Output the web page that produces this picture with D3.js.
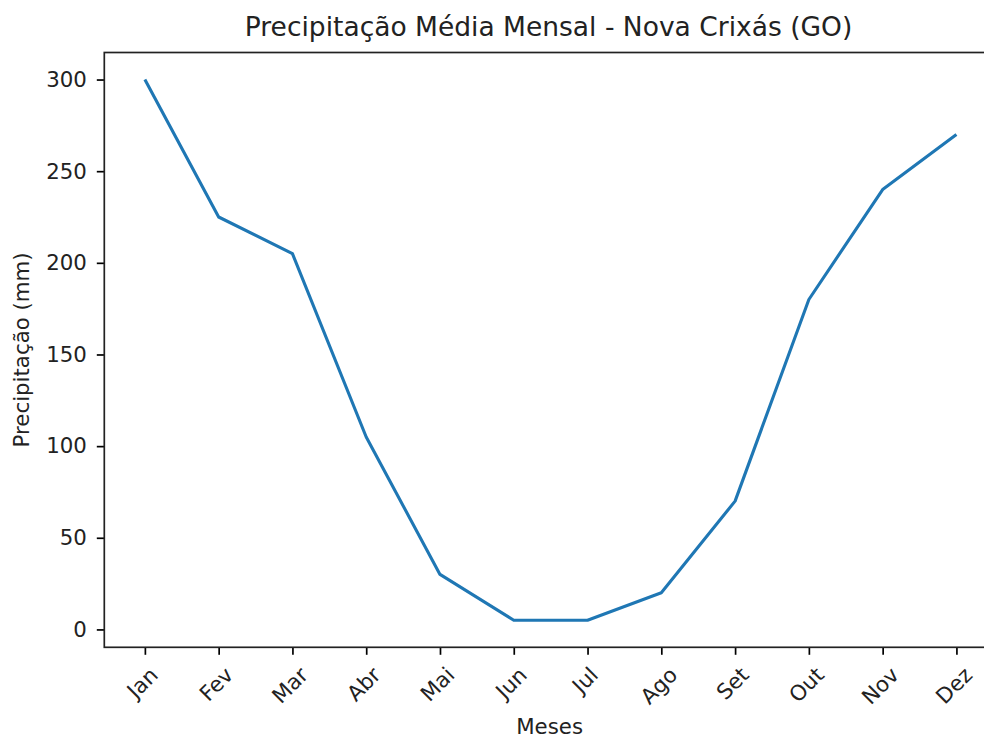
<!DOCTYPE html>
<html>
<head>
<meta charset="utf-8">
<script src="https://cdn.jsdelivr.net/npm/d3@7"></script>
<style>
  html, body { margin: 0; padding: 0; background: #fff; }
  svg { display: block; font-family: "DejaVu Sans", sans-serif; }
</style>
</head>
<body>
<svg id="chart" width="984" height="735"></svg>
<script>
const months = ["Jan", "Fev", "Mar", "Abr", "Mai", "Jun", "Jul", "Ago", "Set", "Out", "Nov", "Dez"];
const precipitation = [300, 225, 205, 105, 30, 5, 5, 20, 70, 180, 240, 270];
const yTicks = [0, 50, 100, 150, 200, 250, 300];
const titleText = "Precipitação Média Mensal - Nova Crixás (GO)";
const xLabel = "Meses";
const yLabel = "Precipitação (mm)";

(function () {
const svg = d3.select("#chart");
const pLeft = 104.3, pRight = 997, pTop = 52.5, pBottom = 647.3;
const n = months.length;
const fs = 21.3, tfs = 26.5, tick = 7.5, tpad = 7.5;

const x = d3.scaleLinear().domain([-0.55, n - 1 + 0.55]).range([pLeft, pRight]);
const yMin = d3.min(precipitation), yMax = d3.max(precipitation);
const pad = (yMax - yMin) * 0.05;
const y = d3.scaleLinear().domain([yMin - pad, yMax + pad]).range([pBottom, pTop]);

// line
const line = d3.line().x((d, i) => x(i)).y(d => y(d));
svg.append("path")
  .datum(precipitation)
  .attr("d", line)
  .attr("fill", "none")
  .attr("stroke", "#1f77b4")
  .attr("stroke-width", 3.1)
  .attr("stroke-linejoin", "round")
  .attr("stroke-linecap", "butt");

// y axis
const yAxis = d3.axisLeft(y).tickValues(yTicks).tickSize(tick).tickPadding(tpad + 2.5);
const yg = svg.append("g").attr("transform", `translate(${pLeft},0)`).call(yAxis);
yg.select(".domain").remove();
yg.selectAll(".tick line").attr("stroke", "#000").attr("stroke-width", 1.7);
yg.selectAll(".tick text").attr("font-size", fs).attr("fill", "#222")
  .attr("font-family", "DejaVu Sans, sans-serif");

// x axis
const xAxis = d3.axisBottom(x).tickValues(d3.range(n)).tickFormat(i => months[i]).tickSize(tick).tickPadding(0);
const xg = svg.append("g").attr("transform", `translate(0,${pBottom})`).call(xAxis);
xg.select(".domain").remove();
xg.selectAll(".tick line").attr("stroke", "#000").attr("stroke-width", 1.7);
xg.selectAll(".tick text")
  .attr("font-size", fs).attr("fill", "#222")
  .attr("font-family", "DejaVu Sans, sans-serif")
  .attr("text-anchor", "middle")
  .attr("dy", null)
  .attr("dominant-baseline", "central")
  .each(function () {
    const t = d3.select(this);
    const w = this.getComputedTextLength();
    const h = fs * 1.164;
    const half = (w + h) / (2 * Math.SQRT2);
    const cy = tick + tpad + half;
    t.attr("x", 0).attr("y", 0).attr("transform", `translate(-3,${cy}) rotate(-45)`);
  });

// spines
svg.append("rect")
  .attr("x", pLeft).attr("y", pTop)
  .attr("width", pRight - pLeft).attr("height", pBottom - pTop)
  .attr("fill", "none").attr("stroke", "#222").attr("stroke-width", 1.7);

// title
svg.append("text")
  .attr("x", 548.5).attr("y", 36)
  .attr("text-anchor", "middle")
  .attr("font-size", tfs).attr("fill", "#222")
  .text(titleText);

// x label
svg.append("text")
  .attr("x", (pLeft + pRight) / 2 - 1).attr("y", 733.5)
  .attr("text-anchor", "middle")
  .attr("font-size", fs).attr("fill", "#222")
  .text(xLabel);

// y label
svg.append("text")
  .attr("transform", `translate(29,${(pTop + pBottom) / 2}) rotate(-90)`)
  .attr("text-anchor", "middle")
  .attr("font-size", fs).attr("fill", "#222")
  .text(yLabel);
})();
</script>
</body>
</html>
